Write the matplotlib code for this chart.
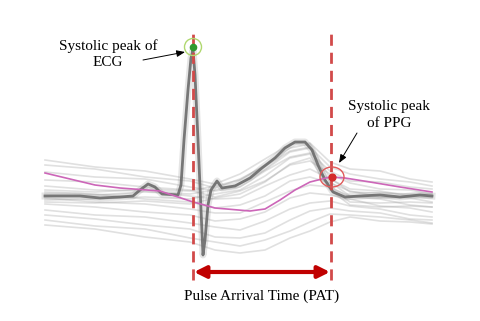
import matplotlib
matplotlib.use('Agg')
import matplotlib.pyplot as plt
from matplotlib.patches import Ellipse

plt.rcParams['font.family'] = ['Liberation Serif', 'DejaVu Serif']

# time axis in ms, amplitude in arbitrary units
ecg_t = [0, 70, 110, 150, 176, 190, 206, 220, 234, 266, 272, 278, 286, 292, 296,
         300, 306, 312, 316, 320, 326, 332, 344, 354, 380, 410, 434, 460, 480,
         500, 520, 534, 546, 560, 576, 600, 630, 670, 710, 750, 774]
ecg_a = [0.04, 0.04, 0.02, 0.03, 0.04, 0.10, 0.16, 0.13, 0.06, 0.05, 0.15, 0.60,
         1.10, 1.42, 1.50, 1.25, 0.60, -0.10, -0.55, -0.40, -0.05, 0.10, 0.19,
         0.12, 0.14, 0.22, 0.32, 0.42, 0.52, 0.58, 0.58, 0.50, 0.35, 0.20, 0.08,
         0.03, 0.04, 0.05, 0.03, 0.05, 0.04]

mean_t = [0, 100, 150, 230, 290, 340, 410, 440, 470, 500, 530, 570, 600, 650, 710, 774]
mean_a = [0.27, 0.15, 0.12, 0.09, -0.01, -0.08, -0.11, -0.09, 0.00, 0.10, 0.18,
          0.23, 0.22, 0.18, 0.13, 0.08]

ppg_t = [0, 100, 200, 290, 340, 390, 440, 490, 530, 570, 610, 670, 730, 774]
ppg_01 = [0.40, 0.33, 0.29, 0.21, 0.16, 0.26, 0.41, 0.56, 0.57, 0.38, 0.31, 0.29, 0.21, 0.18]
ppg_02 = [0.35, 0.31, 0.23, 0.19, 0.12, 0.21, 0.34, 0.49, 0.53, 0.33, 0.26, 0.21, 0.18, 0.14]
ppg_03 = [0.28, 0.23, 0.21, 0.13, 0.09, 0.13, 0.29, 0.43, 0.47, 0.29, 0.19, 0.18, 0.13, 0.11]
ppg_04 = [0.20, 0.18, 0.13, 0.10, 0.03, 0.09, 0.19, 0.35, 0.39, 0.26, 0.17, 0.11, 0.10, 0.06]
ppg_05 = [0.14, 0.10, 0.09, 0.04, 0.01, 0.02, 0.14, 0.25, 0.31, 0.21, 0.11, 0.09, 0.04, 0.03]
ppg_06 = [0.08, 0.06, 0.01, -0.02, -0.08, -0.05, 0.04, 0.19, 0.23, 0.17, 0.09, 0.03, 0.02, -0.02]
ppg_07 = [0.02, -0.02, -0.04, -0.09, -0.13, -0.13, -0.02, 0.09, 0.15, 0.13, 0.03, 0.01, -0.05, -0.07]
ppg_08 = [-0.04, -0.07, -0.12, -0.15, -0.21, -0.19, -0.12, 0.02, 0.07, 0.05, 0.01, -0.06, -0.08, -0.12]
ppg_09 = [-0.10, -0.15, -0.17, -0.23, -0.27, -0.30, -0.21, -0.09, -0.03, -0.01, -0.06, -0.09, -0.15, -0.17]
ppg_10 = [-0.15, -0.19, -0.25, -0.29, -0.37, -0.38, -0.33, -0.20, -0.11, -0.08, -0.11, -0.13, -0.19, -0.20]
ppg_11 = [-0.20, -0.26, -0.29, -0.38, -0.42, -0.46, -0.40, -0.31, -0.22, -0.14, -0.15, -0.17, -0.20, -0.23]
ppg_12 = [-0.25, -0.29, -0.37, -0.42, -0.50, -0.53, -0.50, -0.38, -0.31, -0.22, -0.17, -0.21, -0.22, -0.24]
# traces bunched around the dark trace
ppg_13 = [0.06, 0.05, 0.08, 0.06, 0.10, 0.16, 0.30, 0.48, 0.52, 0.18, 0.04, 0.02, 0.03, 0.02]
ppg_14 = [0.00, 0.01, 0.03, 0.01, 0.06, 0.10, 0.24, 0.42, 0.46, 0.12, -0.02, -0.03, -0.02, -0.03]
ppg_15 = [0.10, 0.08, 0.11, 0.09, 0.14, 0.20, 0.35, 0.52, 0.56, 0.22, 0.08, 0.07, 0.06, 0.06]
ppg_16 = [-0.02, -0.03, -0.01, -0.04, 0.02, 0.06, 0.18, 0.36, 0.42, 0.10, -0.05, -0.07, -0.06, -0.07]
ppg_traces = [ppg_01, ppg_02, ppg_03, ppg_04, ppg_05, ppg_06, ppg_07, ppg_08,
              ppg_09, ppg_10, ppg_11, ppg_12, ppg_13, ppg_14, ppg_15, ppg_16]

ecg_peak = (296, 1.50)
ppg_peak = (574, 0.23)
marker_top, marker_bottom = 1.72, -0.80
pat_level = -0.72


def main():
    fig = plt.figure(figsize=(4.81, 3.21), dpi=100)
    ax = fig.add_axes([0, 0, 1, 1])
    ax.set_xlim(-90, 872)
    ax.set_ylim(-1.21, 2.0)
    ax.axis('off')

    for trace in ppg_traces:
        ax.plot(ppg_t, trace, color='#999999', lw=1.2, alpha=0.3, zorder=1)

    # blurred bundle around the dark trace
    ax.plot(ecg_t, ecg_a, color='#8a8a8a', lw=5, alpha=0.22, zorder=2)
    ax.plot(ecg_t, ecg_a, color='#6b6b6b', lw=2, alpha=0.9, zorder=3)
    ax.plot(mean_t, mean_a, color='#cc66b8', lw=1.2, zorder=4)

    for t in (ecg_peak[0], ppg_peak[0] - 2):
        ax.plot([t, t], [marker_bottom, marker_top], color='#d24a4a', lw=2,
                dashes=(4, 2.5), zorder=5)

    ax.annotate('', xy=(ppg_peak[0] - 4, pat_level), xytext=(ecg_peak[0] + 2, pat_level),
                arrowprops=dict(arrowstyle='<|-|>,head_length=0.7,head_width=0.35',
                                color='#c00000', lw=3, shrinkA=0, shrinkB=0), zorder=6)
    ax.text(434, -0.96, 'Pulse Arrival Time (PAT)', ha='center', va='center',
            fontsize=11)

    # ECG peak marker
    ax.scatter([ecg_peak[0]], [ecg_peak[1] + 0.03], s=150, facecolor='none',
               edgecolor='#b0d870', lw=1, zorder=7)
    ax.scatter([ecg_peak[0]], [ecg_peak[1] + 0.03], s=20, color='#2f9a2f', zorder=8)
    ax.text(126, 1.46, 'Systolic peak of\nECG', ha='center', va='center',
            fontsize=11, linespacing=1.35)
    ax.annotate('', xy=(280, 1.48), xytext=(196, 1.40),
                arrowprops=dict(arrowstyle='-|>,head_length=0.5,head_width=0.2',
                                color='black', lw=0.7, shrinkA=0, shrinkB=0))

    # PPG peak marker
    ax.add_patch(Ellipse(ppg_peak, 48, 0.20, facecolor='none',
                         edgecolor='#e05a5a', lw=1, zorder=7))
    ax.scatter([ppg_peak[0]], [ppg_peak[1]], s=24, color='#d42a2a', zorder=8)
    ax.text(688, 0.85, 'Systolic peak\nof PPG', ha='center', va='center',
            fontsize=11, linespacing=1.35)
    ax.annotate('', xy=(588, 0.37), xytext=(624, 0.67),
                arrowprops=dict(arrowstyle='-|>,head_length=0.5,head_width=0.2',
                                color='black', lw=0.7, shrinkA=0, shrinkB=0))

    fig.savefig('out.png', dpi=100)
    plt.close(fig)


if __name__ == '__main__':
    main()
